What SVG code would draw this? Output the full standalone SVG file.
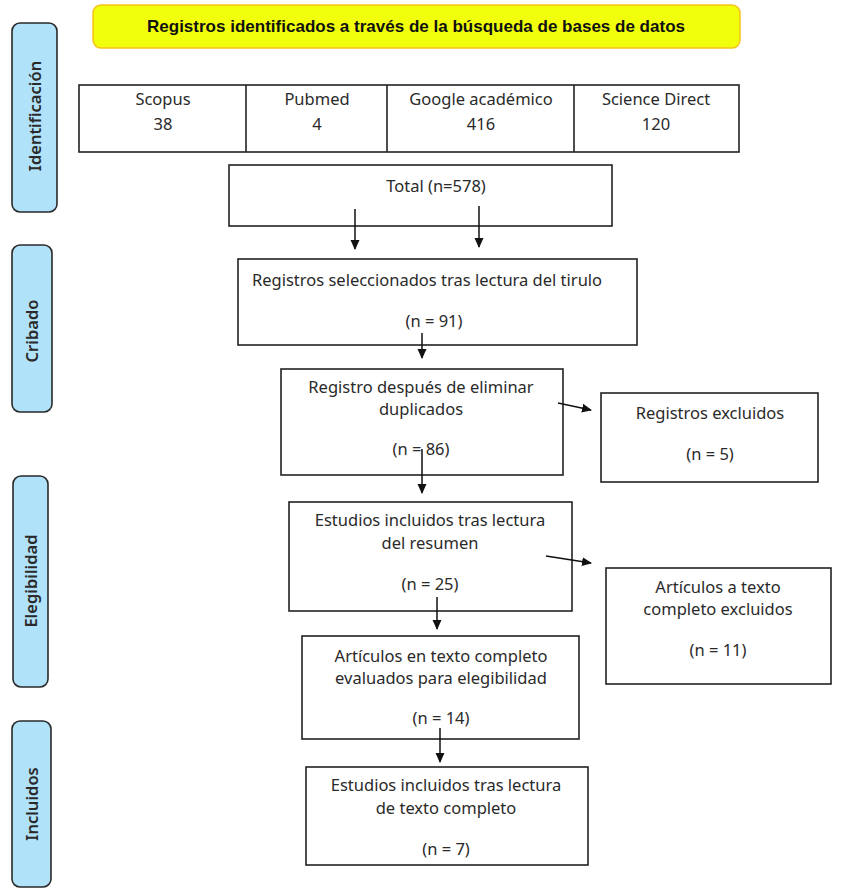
<svg xmlns="http://www.w3.org/2000/svg" width="850" height="894" viewBox="0 0 850 894">
<defs>
<marker id="ah" markerWidth="10" markerHeight="11" refX="9" refY="5" orient="auto" markerUnits="userSpaceOnUse">
<path d="M0,0.5 L10,5 L0,9.5 Z" fill="#111"/>
</marker>
<style>
.box{fill:#fff;stroke:#222;stroke-width:1.6}
.side{fill:#b0e2fa;stroke:#2a2a2a;stroke-width:1.6}
.t{font-family:"Noto Sans","Open Sans","DejaVu Sans",sans-serif;font-size:16.5px;fill:#2a2a2a;text-anchor:middle}
.st{font-family:"Noto Sans","Open Sans","DejaVu Sans",sans-serif;font-size:16.5px;font-weight:600;fill:#2a2a2a;text-anchor:middle}
.hd{font-family:"Liberation Sans Narrow","Liberation Sans",Arial,sans-serif;font-size:17px;font-weight:bold;fill:#111;text-anchor:middle}
.c{stroke:#111;stroke-width:1.5;fill:none;marker-end:url(#ah)}
</style>
</defs>
<rect width="850" height="894" fill="#fff"/>

<g id="header">
<rect x="93" y="5" width="647" height="43" rx="8" fill="#f2ff0c" stroke="#f4c21a" stroke-width="1.5"/>
<text class="hd" x="416" y="32" textLength="538" lengthAdjust="spacingAndGlyphs">Registros identificados a través de la búsqueda de bases de datos</text>
</g>

<g id="side-identificacion">
<rect class="side" x="12" y="23" width="45" height="189" rx="8"/>
<text class="st" transform="translate(41,116) rotate(-90)">Identificación</text>
</g>
<g id="side-cribado">
<rect class="side" x="12" y="245" width="40" height="167" rx="8"/>
<text class="st" transform="translate(38,331) rotate(-90)">Cribado</text>
</g>
<g id="side-elegibilidad">
<rect class="side" x="13" y="476" width="35" height="211" rx="8"/>
<text class="st" transform="translate(37,581) rotate(-90)">Elegibilidad</text>
</g>
<g id="side-incluidos">
<rect class="side" x="12" y="721" width="39" height="166" rx="8"/>
<text class="st" transform="translate(38,804) rotate(-90)">Incluidos</text>
</g>

<g id="databases">
<rect class="box" x="79" y="85" width="660" height="67"/>
<line x1="246" y1="85" x2="246" y2="152" stroke="#222" stroke-width="1.6"/>
<line x1="387" y1="85" x2="387" y2="152" stroke="#222" stroke-width="1.6"/>
<line x1="574" y1="85" x2="574" y2="152" stroke="#222" stroke-width="1.6"/>
<g id="db-scopus"><text class="t" x="163" y="105">Scopus</text><text class="t" x="163" y="130">38</text></g>
<g id="db-pubmed"><text class="t" x="317" y="105">Pubmed</text><text class="t" x="317" y="130">4</text></g>
<g id="db-google"><text class="t" x="481" y="105">Google académico</text><text class="t" x="481" y="130">416</text></g>
<g id="db-science"><text class="t" x="656" y="105">Science Direct</text><text class="t" x="656" y="130">120</text></g>
</g>

<g id="total">
<rect class="box" x="229" y="165" width="383" height="61"/>
<text class="t" x="436" y="192">Total (n=578)</text>
</g>

<g id="seleccionados">
<rect class="box" x="238" y="259" width="399" height="86"/>
<text class="t" x="427" y="286">Registros seleccionados tras lectura del tirulo</text>
<text class="t" x="434" y="327">(n = 91)</text>
</g>

<g id="duplicados">
<rect class="box" x="281" y="369" width="282" height="106"/>
<text class="t" x="421" y="393">Registro después de eliminar</text>
<text class="t" x="421" y="415">duplicados</text>
<text class="t" x="421" y="455">(n = 86)</text>
</g>

<g id="excluidos">
<rect class="box" x="601" y="393" width="217" height="89"/>
<text class="t" x="710" y="419">Registros excluidos</text>
<text class="t" x="710" y="460">(n = 5)</text>
</g>

<g id="resumen">
<rect class="box" x="289" y="502" width="283" height="109"/>
<text class="t" x="430" y="526">Estudios incluidos tras lectura</text>
<text class="t" x="430" y="549">del resumen</text>
<text class="t" x="430" y="590">(n = 25)</text>
</g>

<g id="articulos-excluidos">
<rect class="box" x="606" y="568" width="225" height="116"/>
<text class="t" x="718" y="593">Artículos a texto</text>
<text class="t" x="718" y="615">completo excluidos</text>
<text class="t" x="718" y="656">(n = 11)</text>
</g>

<g id="evaluados">
<rect class="box" x="302" y="636" width="277" height="103"/>
<text class="t" x="441" y="662">Artículos en texto completo</text>
<text class="t" x="441" y="684">evaluados para elegibilidad</text>
<text class="t" x="441" y="724">(n = 14)</text>
</g>

<g id="incluidos-final">
<rect class="box" x="306" y="767" width="282" height="98"/>
<text class="t" x="446" y="791">Estudios incluidos tras lectura</text>
<text class="t" x="446" y="814">de texto completo</text>
<text class="t" x="446" y="855">(n = 7)</text>
</g>

<g id="connectors">
<line class="c" x1="355" y1="209" x2="355" y2="249"/>
<line class="c" x1="479" y1="206" x2="479" y2="247"/>
<line class="c" x1="422" y1="333" x2="422" y2="358"/>
<line class="c" x1="422" y1="449" x2="422" y2="493"/>
<line class="c" x1="558" y1="403" x2="591" y2="410"/>
<line class="c" x1="546" y1="556" x2="591" y2="563"/>
<line class="c" x1="437" y1="597" x2="437" y2="629"/>
<line class="c" x1="440" y1="728" x2="440" y2="762"/>
</g>
</svg>
